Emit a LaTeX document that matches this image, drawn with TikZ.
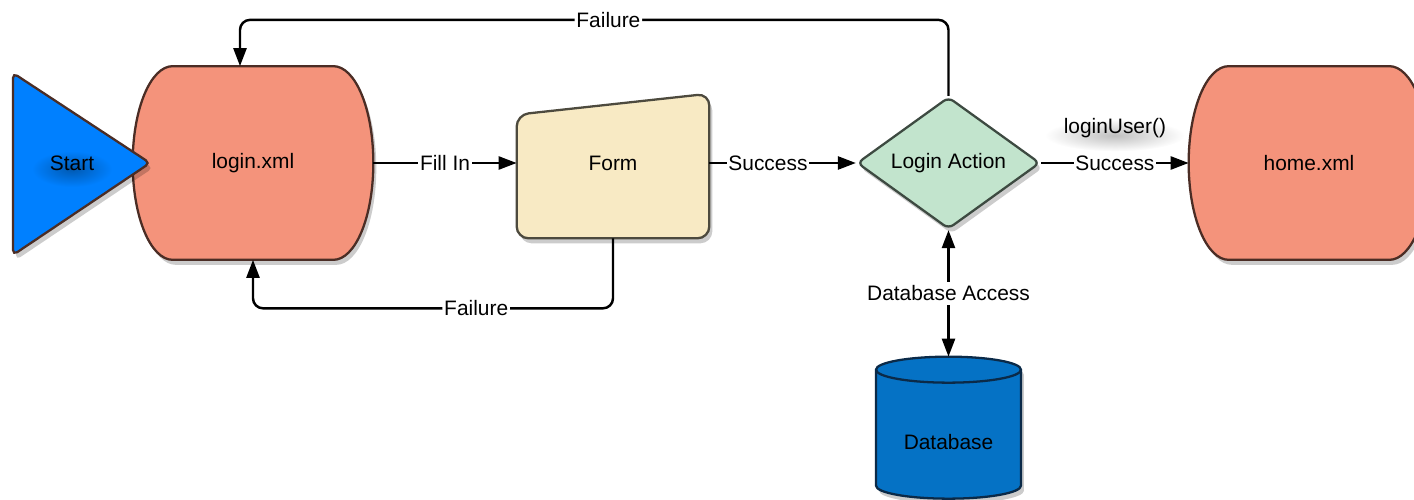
\documentclass[tikz,border=0pt]{standalone}
\usepackage{fontspec}
\setmainfont{Liberation Sans}
\usepackage{tikz}
\usetikzlibrary{positioning}
\usetikzlibrary{arrows.meta}
\usetikzlibrary{shapes.geometric}
\usetikzlibrary{shadows}
\usetikzlibrary{calc}
\usetikzlibrary{backgrounds}

\definecolor{startblue}{RGB}{0,128,255}
\definecolor{salmon}{RGB}{244,147,123}
\definecolor{formyellow}{RGB}{248,234,196}
\definecolor{actgreen}{RGB}{194,228,205}
\definecolor{dbblue}{RGB}{5,114,197}
\definecolor{brownline}{RGB}{75,45,37}
\definecolor{formline}{RGB}{77,74,62}
\definecolor{greenline}{RGB}{61,74,65}
\definecolor{dbline}{RGB}{11,42,72}

% rounded "display" outline round a page node
\newcommand{\screenpath}[1]{%
  \draw[pageshape] ($(#1.north west)+(40,0)$) -- ($(#1.north east)+(-40,0)$)
    .. controls ($(#1.north east)+(-18,0)$) and ($(#1.east)+(0,-54)$) .. (#1.east)
    .. controls ($(#1.east)+(0,54)$) and ($(#1.south east)+(-18,0)$) .. ($(#1.south east)+(-40,0)$)
    -- ($(#1.south west)+(40,0)$)
    .. controls ($(#1.south west)+(18,0)$) and ($(#1.west)+(0,54)$) .. (#1.west)
    .. controls ($(#1.west)+(0,-54)$) and ($(#1.north west)+(18,0)$) .. ($(#1.north west)+(40,0)$)
    -- cycle;}

\begin{document}
\begin{tikzpicture}[
            x = 0.02cm, y = -0.02cm, % one unit per pixel
            > = {Triangle[length=0.36cm,width=0.26cm]}, % arrow head style
            font = \fontsize{11.9}{14}\selectfont
        ]

        \tikzstyle{dropshade}=[drop shadow = {shadow xshift = 0.06cm, shadow yshift = -0.1cm, opacity = 0.2, fill = black}]
        \tikzstyle{border}=[line width = 1.3pt]
        \tikzstyle{pagebox}=[inner sep = 0pt, minimum width = 4.8cm, minimum height = 3.86cm]
        \tikzstyle{pageshape}=[border, draw = brownline, fill = salmon, dropshade]
        \tikzstyle{decision}=[
            diamond,
            aspect = 1.4,
            border,
            draw = greenline,
            fill = actgreen,
            rounded corners = 0.12cm,
            inner sep = 0pt,
            minimum width = 3.66cm,
            minimum height = 2.64cm,
            dropshade
        ]
        \tikzstyle{lbl}=[fill = white, inner xsep = 1pt, inner ysep = 2pt]
        \tikzstyle{flow}=[->, line width = 1.4pt]
        \tikzstyle{back}=[flow, rounded corners = 0.2cm]

        \useasboundingbox (0,0) rectangle (1414,500);

	% pages
        \node[pagebox] (login) at (253,163) {login.xml};
        \node[pagebox] (home) at (1309,163) {home.xml};
        \node (start) at (72,163) {Start};

	% form and action
        \node[inner sep = 0pt, minimum width = 3.84cm, minimum height = 3cm] (form) at (613,163) {Form};
        \node[decision] (act) at (948.5,163) {Login Action};

	% storage
        \node[inner sep = 0pt, minimum width = 2.9cm, minimum height = 3.4cm] (db) at (948.5,442) {Database};

	% flow
        \draw[flow] (login.east) -- node[lbl] (fillin) {Fill In} (form.west);
        \draw[flow] (form.east) -- node[lbl, pos = 0.4] (ok1) {Success} (act.west);
        \draw[flow] (act.east) -- node[lbl] (ok2) {Success} (home.west);
        \draw[flow, <->] (act.south) -- node[lbl] (dbacc) {Database Access} (db.north);

	% failures
        \draw[back] (act.north) -- ++(0,-76) -| node[lbl, pos = 0.24] (fail1) {Failure} ([xshift = -0.26cm]login.north);
        \draw[back] (form.south) -- ++(0,70) -| node[lbl, pos = 0.19] (fail2) {Failure} (login.south);

        \node[above = 0.13cm of ok2] (call) {loginUser()};

        \begin{pgfonlayer}{background}
            \screenpath{login}
            \screenpath{home}
            \draw[border, draw = brownline, fill = startblue, rounded corners = 0.1cm, dropshade]
                (13,164) -- (13,73) -- (150,163) -- (13,255) -- cycle;
            \shade[inner color = startblue!70!black, outer color = startblue]
                ($(start)+(0,6)$) ellipse [x radius = 0.8cm, y radius = 0.36cm];
            \draw[border, draw = formline, fill = formyellow, rounded corners = 0.24cm, dropshade]
                (form.west) -- (form.south west) -- (form.south east)
                -- ($(form.north east)+(0,6)$) -- ($(form.north west)+(0,27)$) -- cycle;
            \draw[border, draw = dbline, fill = dbblue, dropshade]
                ($(db.north)+(-72.5,13)$) -- ++(0,116)
                arc[start angle = 180, end angle = 360, x radius = 1.45cm, y radius = 0.26cm]
                -- ++(0,-116)
                arc[start angle = 0, end angle = 180, x radius = 1.45cm, y radius = 0.26cm] -- cycle;
            \draw[border, draw = dbline]
                ($(db.north)+(-72.5,13)$)
                arc[start angle = 180, end angle = 360, x radius = 1.45cm, y radius = 0.26cm];
            \shade[inner color = black!25, outer color = white]
                ($(call)+(0,7)$) ellipse [x radius = 1.4cm, y radius = 0.32cm];
        \end{pgfonlayer}

  \end{tikzpicture}
\end{document}
